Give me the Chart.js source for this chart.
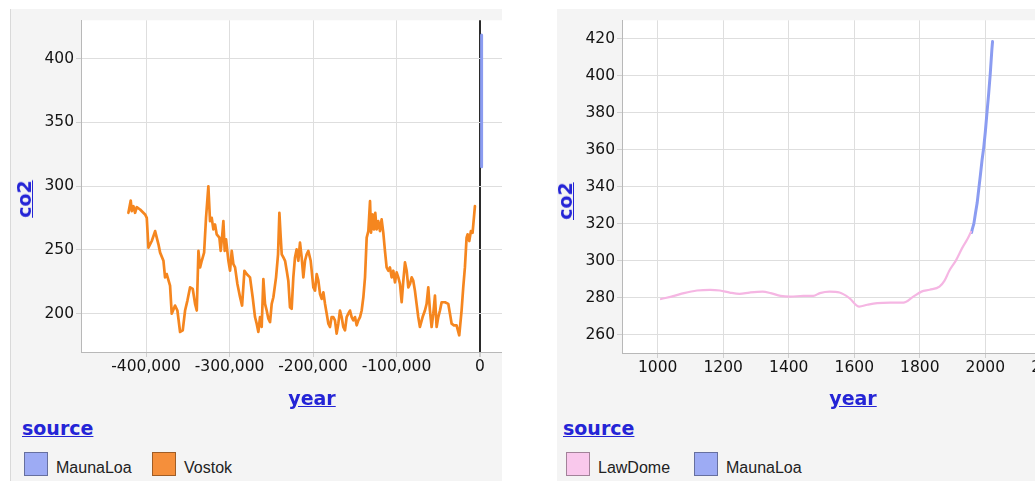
<!DOCTYPE html>
<html>
<head>
<meta charset="utf-8">
<script src="https://cdn.jsdelivr.net/npm/chart.js@4/dist/chart.umd.min.js"></script>
<style>
  html, body { margin: 0; padding: 0; background: #fff; width: 1035px; height: 481px; overflow: hidden; }
  .panel { position: absolute; top: 9px; height: 472px; background: #f4f4f4; overflow: hidden; }
  #panelL { left: 10px; width: 492px; box-shadow: inset 1px 0 0 #d9d9d9; }
  #panelR { left: 557px; width: 478px; }
  .panel canvas { position: absolute; left: 0; top: 0; }
  .ttl { position: absolute; font-family: "DejaVu Sans", sans-serif; font-weight: bold; font-size: 19px;
         line-height: 22px; color: #2424d6; text-decoration: underline; white-space: nowrap; }
  .ttl.center { transform: translate(-50%, -50%); }
  .ttl.rot { transform: translate(-50%, -50%) rotate(-90deg); }
  .legend { position: absolute; top: 443px; display: flex; }
  .legend .item { width: 128px; display: flex; align-items: flex-start; }
  .legend .sw { width: 24px; height: 24px; box-sizing: border-box; border: 1px solid rgba(0,0,0,0.35); }
  .legend .lbl { margin-left: 8px; font-family: "Liberation Sans", Arial, sans-serif; font-size: 16px;
                 line-height: 24px; color: #222; position: relative; top: 4px; }
</style>
</head>
<body>
<div class="panel" id="panelL">
  <canvas id="chartL" width="520" height="400"></canvas>
  <div class="ttl center" style="left:302px; top:389px;">year</div>
  <div class="ttl rot" style="left:14px; top:190px;">co2</div>
  <div class="ttl" style="left:12px; top:408px;">source</div>
  <div class="legend" id="legendL" style="left:14px;"></div>
</div>
<div class="panel" id="panelR">
  <canvas id="chartR" width="553" height="400"></canvas>
  <div class="ttl center" style="left:296px; top:389px;">year</div>
  <div class="ttl rot" style="left:8px; top:192px;">co2</div>
  <div class="ttl" style="left:6px; top:408px;">source</div>
  <div class="legend" id="legendR" style="left:9px;"></div>
</div>
<script>
// Vostok ice core record (year relative to present, CO2 ppm)
const vostokYear = [
  -421200,-418400,-417200,-415200,-413200,-411200,-407200,-401200,-399200,-397200,
  -393200,-389200,-385200,-383200,-379200,-377300,-375300,-371300,-369300,-365300,
  -362500,-359300,-356100,-353300,-350500,-347300,-344100,-341300,-339300,-337300,
  -335300,-333300,-330500,-328200,-325400,-323400,-321400,-319400,-317400,-315400,
  -312200,-310600,-309000,-307400,-305800,-304200,-301400,-299400,-297400,-295400,
  -293400,-290600,-287400,-285000,-282200,-279500,-275500,-272300,-269500,-267500,
  -265500,-263500,-261500,-259500,-257500,-255500,-253500,-251500,-249500,-247500,
  -244300,-241900,-240300,-238700,-237500,-235500,-233500,-231500,-229600,-227600,
  -225600,-223600,-221600,-219600,-217600,-215600,-213600,-211600,-209600,-207600,
  -205600,-202800,-199600,-197600,-195600,-193600,-191600,-189600,-187600,-185600,
  -183600,-181600,-179700,-177700,-175700,-173700,-171700,-169700,-167700,-165700,
  -163700,-161700,-159700,-157700,-155700,-153700,-151700,-149700,-147700,-145700,
  -143700,-141700,-139700,-137700,-135700,-133700,-131700,-130500,-128500,-127000,
  -125400,-123800,-121800,-119800,-117800,-115800,-113800,-111800,-109800,-107800,
  -105800,-103800,-101800,-99800,-97800,-95800,-93800,-91800,-89800,-87800,
  -85800,-83800,-81800,-79900,-77900,-75900,-73900,-71900,-68700,-65900,
  -63900,-61900,-59900,-57900,-55900,-53900,-51900,-49900,-47900,-45900,
  -41900,-37900,-35900,-33900,-31200,-28000,-24800,-22000,-20000,-18000,
  -16000,-14800,-12800,-10800,-8800,-6000
];
const vostokCo2 = [
  279.1,288.7,280.4,284.3,279.1,283.5,281.7,277.8,275.2,251.8,
  257.0,264.8,254.4,247.9,241.5,228.5,231.1,222.0,200.0,206.4,
  202.5,185.7,187.0,202.5,210.3,220.7,219.4,207.7,202.5,249.2,
  236.3,241.5,247.9,275.2,299.8,272.6,275.2,266.1,270.0,262.2,
  259.6,249.2,259.6,272.6,249.2,258.3,241.5,233.7,249.2,238.9,
  236.3,223.3,212.9,206.4,233.7,231.1,228.5,212.9,197.4,192.2,
  185.7,197.4,189.6,227.2,207.7,202.5,196.1,193.5,207.7,212.9,
  228.5,246.6,279.1,259.6,246.6,244.1,241.5,233.7,225.9,205.1,
  203.8,228.5,244.1,250.5,241.5,255.7,244.1,228.5,241.5,246.6,
  249.2,241.5,220.7,218.1,231.1,225.9,215.5,211.6,216.8,207.7,
  200.0,192.2,189.6,197.4,197.4,194.8,184.4,192.2,202.5,197.4,
  189.6,187.0,197.4,200.0,202.5,197.4,194.8,197.4,190.9,194.8,
  197.4,202.5,212.9,228.5,259.6,264.8,288.2,263.5,277.8,266.1,
  279.1,266.1,272.6,264.8,273.9,263.5,249.2,236.3,233.7,236.3,
  228.5,233.7,224.6,232.4,228.5,223.3,209.0,225.9,240.2,233.7,
  220.7,223.3,228.5,225.9,218.1,207.7,197.4,189.6,197.4,202.5,
  207.7,220.7,202.5,189.6,200.0,214.2,189.6,197.4,202.5,209.0,
  209.0,207.7,200.0,192.2,190.9,190.9,183.1,202.5,220.7,236.3,
  259.6,262.2,257.0,264.8,263.5,284.3
];

// Mauna Loa observatory annual means
const maunaLoaYear = [1958,1960,1965,1970,1975,1980,1985,1990,1995,2000,2005,2010,2015,2020,2022];
const maunaLoaCo2  = [315.2,316.9,320.0,325.7,331.1,338.8,346.4,354.4,361.0,369.7,380.0,389.9,401.0,414.2,418.5];

// Law Dome ice core record
const lawDomeYear = [1010,1050,1080,1120,1160,1190,1220,1250,1280,1320,
                     1345,1375,1405,1445,1475,1495,1525,1555,1585,1615,
                     1640,1670,1710,1750,1780,1805,1830,1860,1875,1890,
                     1910,1930,1945,1956];
const lawDomeCo2  = [279.2,280.9,282.4,283.8,284.2,283.8,282.7,282.0,282.7,283.2,
                     282.4,280.9,280.5,280.9,280.9,282.4,283.2,282.7,279.7,275.1,
                     276.1,277.0,277.3,277.3,280.5,283.2,284.2,285.9,289.0,294.5,
                     300.0,307.0,311.5,315.5];

// Axis tick values
const longYearTicks = [-400000, -300000, -200000, -100000, 0];
const longCo2Ticks  = [200, 250, 300, 350, 400];
const recentYearTicks = [1000, 1200, 1400, 1600, 1800, 2000, 2200];
const recentCo2Ticks  = [260, 280, 300, 320, 340, 360, 380, 400, 420];

const sourceColors = { MaunaLoa: '#8b9cf1', Vostok: '#f5861f', LawDome: '#f5b6e3' };
const swatchColors = { MaunaLoa: '#9dabf4', Vostok: '#f58f3b', LawDome: '#f9c8ec' };

const toPoints = (xs, ys) => xs.map((x, i) => ({ x: x, y: ys[i] }));

const plotBackground = {
  id: 'plotBackground',
  beforeDraw(chart) {
    const { ctx, chartArea: a } = chart;
    ctx.save();
    ctx.fillStyle = '#ffffff';
    ctx.fillRect(a.left, a.top, a.right - a.left, a.bottom - a.top);
    ctx.restore();
  }
};

const tickFont = { family: '"DejaVu Sans", sans-serif', size: 15.5 };

function xScale(min, max, ticks, fmt, height, zeroRule) {
  return {
    type: 'linear', position: 'bottom', min: min, max: max,
    afterBuildTicks: s => { s.ticks = ticks.map(v => ({ value: v })); },
    afterFit: s => { s.height = height; },
    grid: {
      color: c => (zeroRule && c.tick && c.tick.value === 0) ? '#2b2b2b' : '#dedede',
      lineWidth: c => (zeroRule && c.tick && c.tick.value === 0) ? 2 : 1,
      tickLength: 5, tickColor: '#cfcfcf'
    },
    border: { display: true, color: '#b8b8b8', width: 1 },
    ticks: { color: '#141414', font: tickFont, padding: 1, maxRotation: 0, autoSkip: false,
             callback: v => fmt(v) }
  };
}

function yScale(min, max, ticks, width) {
  return {
    type: 'linear', position: 'left', min: min, max: max,
    afterBuildTicks: s => { s.ticks = ticks.map(v => ({ value: v })); },
    afterFit: s => { s.width = width; },
    grid: { color: '#dedede', lineWidth: 1, tickLength: 5, tickColor: '#cfcfcf' },
    border: { display: true, color: '#b8b8b8', width: 1 },
    ticks: { color: '#141414', font: tickFont, padding: 2, autoSkip: false, callback: v => String(v) }
  };
}

function lineSet(name, xs, ys, width, smooth) {
  return {
    label: name, data: toPoints(xs, ys),
    borderColor: sourceColors[name], backgroundColor: sourceColors[name],
    borderWidth: width, pointRadius: 0, fill: false,
    cubicInterpolationMode: smooth ? 'monotone' : 'default', tension: 0,
    borderJoinStyle: 'round', borderCapStyle: 'round'
  };
}

const baseOptions = (padding, scales) => ({
  responsive: false, animation: false, devicePixelRatio: 1,
  layout: { padding: padding },
  plugins: { legend: { display: false }, tooltip: { enabled: false } },
  scales: scales
});

new Chart(document.getElementById('chartL'), {
  type: 'line',
  data: { datasets: [
    lineSet('MaunaLoa', maunaLoaYear, maunaLoaCo2, 3, false),
    lineSet('Vostok', vostokYear, vostokCo2, 2.7, false)
  ] },
  options: baseOptions({ top: 8, right: 10, bottom: 0, left: 0 }, {
    x: xScale(-478000, 48000, longYearTicks, v => v.toLocaleString('en-US'), 57, true),
    y: yScale(170, 430, longCo2Ticks, 71)
  }),
  plugins: [plotBackground]
});

new Chart(document.getElementById('chartR'), {
  type: 'line',
  data: { datasets: [
    lineSet('LawDome', lawDomeYear, lawDomeCo2, 2.2, true),
    lineSet('MaunaLoa', maunaLoaYear, maunaLoaCo2, 3, false)
  ] },
  options: baseOptions({ top: 11, right: 10, bottom: 0, left: 0 }, {
    x: xScale(891, 2350, recentYearTicks, v => String(v), 56, false),
    y: yScale(250, 430, recentCo2Ticks, 65)
  }),
  plugins: [plotBackground]
});

// Colour legends for each panel
function buildLegend(id, names) {
  const box = document.getElementById(id);
  names.forEach(n => {
    const item = document.createElement('div');
    item.className = 'item';
    const sw = document.createElement('div');
    sw.className = 'sw';
    sw.style.background = swatchColors[n];
    const lbl = document.createElement('span');
    lbl.className = 'lbl';
    lbl.textContent = n;
    item.appendChild(sw);
    item.appendChild(lbl);
    box.appendChild(item);
  });
}
buildLegend('legendL', ['MaunaLoa', 'Vostok']);
buildLegend('legendR', ['LawDome', 'MaunaLoa']);
</script>
</body>
</html>
